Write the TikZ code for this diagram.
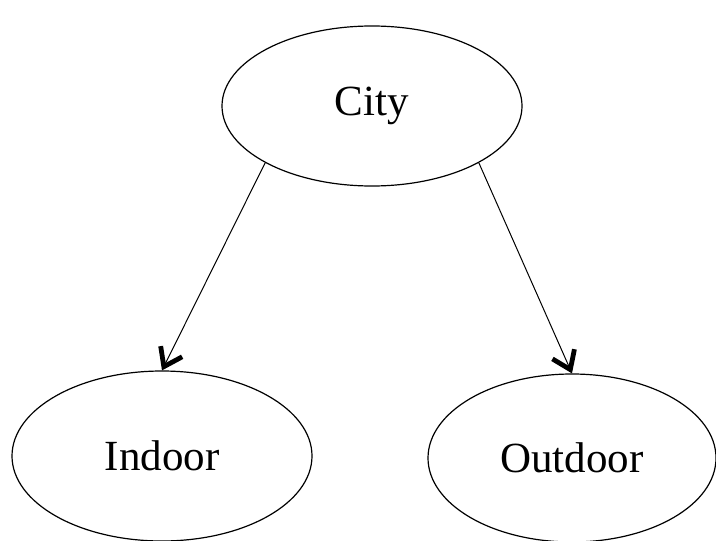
\documentclass[tikz,border=0pt]{standalone}
\usepackage{fontspec}
\setmainfont{Liberation Serif}
\usepackage{tikz}
\usetikzlibrary{shapes.geometric,arrows.meta}

\begin{document}
\begin{tikzpicture}[x=0.5pt,y=-0.5pt,
    state/.style={ellipse,draw,line width=0.6pt,inner sep=0pt,font=\fontsize{21.5}{26}\selectfont},
    link/.style={-{Straight Barb[length=8.5pt,width=12pt,line width=2.4pt]},line width=0.5pt}]
\useasboundingbox (0,0) rectangle (716,540);
\node[state,minimum width=150pt,minimum height=80pt] (city) at (372,106) {City};
\node[state,minimum width=150pt,minimum height=85pt] (indoor) at (162,456) {Indoor};
\node[state,minimum width=144pt,minimum height=84pt] (outdoor) at (572,458) {Outdoor};
\draw[link] (city.208) -- (indoor.north);
\draw[link] (city.332) -- (outdoor.north);
\end{tikzpicture}
\end{document}
